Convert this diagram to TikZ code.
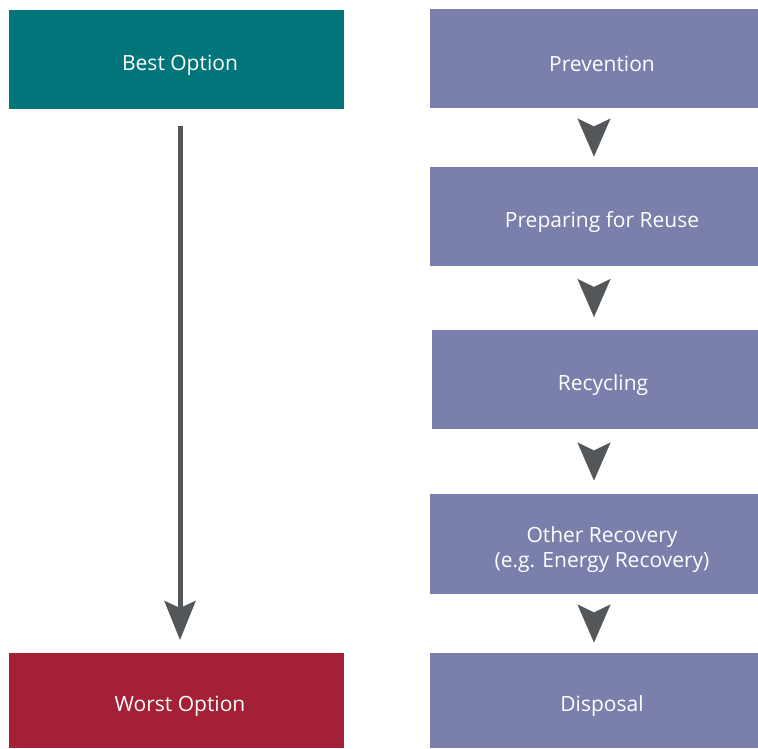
\documentclass[tikz,border=0pt]{standalone}
\usepackage{fontspec}
\setmainfont{Open Sans}
\usetikzlibrary{arrows.meta}
\definecolor{teal1}{RGB}{0,118,122}
\definecolor{purp}{RGB}{123,127,171}
\definecolor{wred}{RGB}{163,32,54}
\definecolor{agray}{RGB}{84,87,90}
\tikzset{
  txt/.style={text=white, font=\fontsize{21}{25}\selectfont, align=center, inner sep=0pt},
  box/.style={rectangle, inner sep=0pt, outer sep=0pt},
  leftbox/.style={box, minimum width=335pt, label={[txt, xshift=3.5pt, yshift=-6pt]center:#1}},
  rightbox/.style={box, fill=purp, minimum width=328pt, label={[txt, xshift=8pt, yshift=-5.5pt]center:#1}},
  chev/.style={draw=agray, fill=agray, line width=0.1pt, shorten <=#1+8pt, shorten >=#1,
    -{Stealth[length=38pt, width=33pt, inset=8pt]}},
  bigarrow/.style={draw=agray, line width=5pt,
    -{Stealth[length=39pt, width=31pt, inset=7pt]}}
}
\begin{document}
\begin{tikzpicture}[x=1pt,y=-1pt]
\useasboundingbox (0,0) rectangle (758,749);
\node[leftbox=Best Option, fill=teal1, minimum height=99pt] (best) at (176.5,59.5) {};
\node[leftbox=Worst Option, fill=wred, minimum height=95pt] (worst) at (176.5,700.5) {};
\node[rightbox=Prevention, minimum height=99pt] (prev) at (594,58.5) {};
\node[rightbox=Preparing for Reuse, minimum height=99pt] (reuse) at (594,216.5) {};
\node[rightbox=Recycling, minimum height=99pt, minimum width=326pt] (recy) at (595,379.5) {};
\node[rightbox={Other Recovery\\(e.g. Energy Recovery)}, minimum height=100pt] (other) at (594,544) {};
\node[rightbox=Disposal, minimum height=95pt] (disp) at (594,700.5) {};
\draw[chev=10.5pt] (prev.south) -- (reuse.north);
\draw[chev=13pt] (reuse.south) -- (reuse.south |- recy.north);
\draw[chev=13.5pt] (recy.south -| other.north) -- (other.north);
\draw[chev=10.5pt] (other.south) -- (disp.north);
\draw[bigarrow, shorten <=17pt, shorten >=13pt] ([xshift=3.5pt]best.south) -- ([xshift=3.5pt]worst.north);
\end{tikzpicture}
\end{document}
